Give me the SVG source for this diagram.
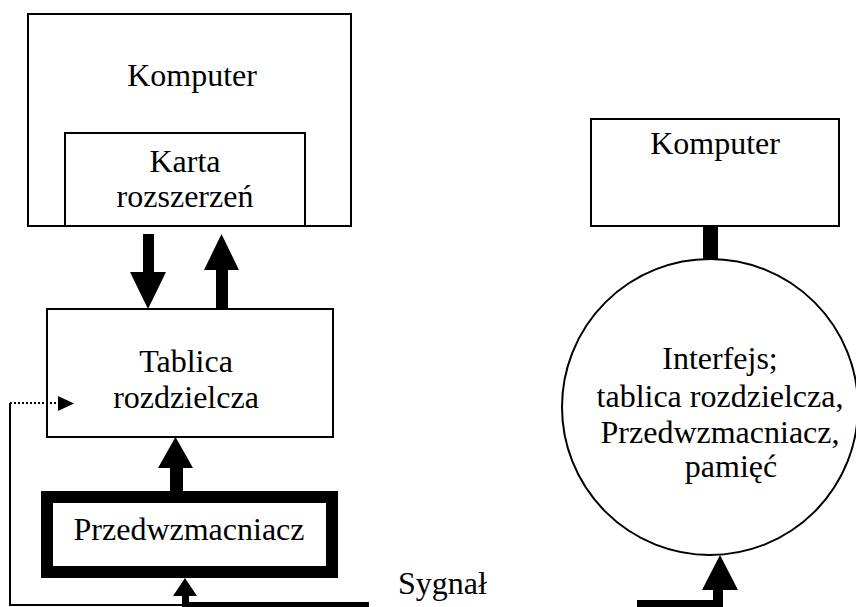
<svg xmlns="http://www.w3.org/2000/svg" width="856" height="607" viewBox="0 0 856 607">
  <style>
    .box { fill: #fff; stroke: #000; stroke-width: 2; }
    .lbl { font-size: 32px; fill: #000; text-anchor: middle; }
    .thin { fill: none; stroke: #000; stroke-width: 2; }
    .dot { fill: none; stroke: #000; stroke-width: 2; stroke-dasharray: 2 2; }
    .solid { fill: #000; stroke: none; }
  </style>
  <rect width="856" height="607" fill="#fff"/>

  <g font-family="'Liberation Serif', 'Times New Roman', 'DejaVu Serif', serif">
    <!-- left: computer with expansion card -->
    <g id="komputer-left">
      <rect class="box" x="28" y="14" width="323" height="212"/>
      <text class="lbl" x="192" y="86">Komputer</text>
    </g>
    <g id="karta">
      <rect class="box" x="65" y="133" width="240" height="93"/>
      <text class="lbl" x="185" y="172">Karta</text>
      <text class="lbl" x="185" y="207">rozszerzeń</text>
    </g>
    <g id="tablica">
      <rect class="box" x="47" y="309" width="286" height="128"/>
      <text class="lbl" x="186" y="372">Tablica</text>
      <text class="lbl" x="186" y="408">rozdzielcza</text>
    </g>
    <g id="przedwzmacniacz">
      <rect x="47" y="497" width="285" height="75" fill="#fff" stroke="#000" stroke-width="12"/>
      <text class="lbl" x="189" y="540">Przedwzmacniacz</text>
    </g>

    <!-- right: computer with interface unit -->
    <g id="komputer-right">
      <rect class="box" x="591" y="119" width="248" height="107"/>
      <text class="lbl" x="715" y="154">Komputer</text>
    </g>
    <g id="interfejs">
      <circle cx="710" cy="407" r="148" fill="#fff" stroke="#000" stroke-width="2"/>
      <text class="lbl" x="720" y="369">Interfejs;</text>
      <text class="lbl" x="720" y="407">tablica rozdzielcza,</text>
      <text class="lbl" x="720" y="443">Przedwzmacniacz,</text>
      <text class="lbl" x="731" y="477">pamięć</text>
    </g>

    <g id="sygnal">
      <text class="lbl" x="398" y="594" text-anchor="start" style="text-anchor:start">Sygnał</text>
    </g>
  </g>

  <g id="connectors">
    <!-- card to switchboard (down) -->
    <polygon class="solid" points="143,234 154,234 154,272 166,272 148,309 130,272 143,272"/>
    <!-- switchboard to card (up) -->
    <polygon class="solid" points="216,309 228,309 228,270 239,270 221.5,234 204,270 216,270"/>
    <!-- preamp to switchboard -->
    <polygon class="solid" points="170,491 183,491 183,468 193,468 175.5,437 158,468 170,468"/>
    <!-- signal into preamp -->
    <polygon class="solid" points="182,607 189,607 189,596 197,596 185,578 173,596 182,596"/>
    <rect class="solid" x="182" y="602" width="187" height="5"/>
    <!-- feedback loop to switchboard -->
    <polyline class="thin" points="183,605 10,605 10,403"/>
    <line class="dot" x1="10" y1="403" x2="60" y2="403"/>
    <polygon class="solid" points="58,396 74,403.5 58,411"/>
    <!-- computer to interface unit -->
    <rect class="solid" x="703" y="226" width="15" height="34"/>
    <!-- signal into interface unit -->
    <polygon class="solid" points="637,600 713,600 713,590 702,590 720,555 738,590 723,590 723,607 637,607"/>
  </g>
</svg>
